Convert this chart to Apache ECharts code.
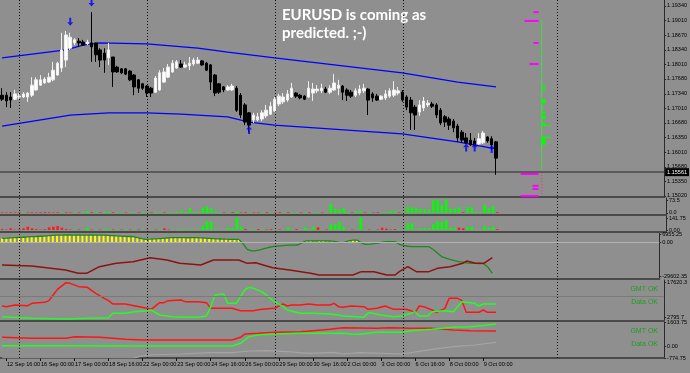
<!DOCTYPE html>
<html><head><meta charset="utf-8">
<script src="https://cdn.jsdelivr.net/npm/echarts@6/dist/echarts.min.js"></script>
<style>html,body{margin:0;padding:0;background:#8f8f8f;}#c{width:690px;height:373px;}</style>
</head><body><div id="c"></div>
<script>
const NCAT = 156;
const timeLabels = ['12 Sep 16:00','16 Sep 00:00','17 Sep 00:00','18 Sep 16:00','22 Sep 00:00','23 Sep 00:00','24 Sep 16:00','26 Sep 00:00','29 Sep 00:00','30 Sep 16:00','2 Oct 00:00','3 Oct 00:00','6 Oct 16:00','8 Oct 00:00','9 Oct 00:00'];
const timeLabelIdx = [1,9,17,25,33,41,49,57,65,73,81,89,97,105,113];
const gridLinesIdx = [4,34,64,94,130];
const priceTicks = [1.15020,1.15350,1.15680,1.16010,1.16350,1.16680,1.17010,1.17340,1.17680,1.18010,1.18340,1.18670,1.19010,1.19340];
const bidPrice = 1.15561;
// [open, close, low, high]
const candles = [
[1.1731,1.1722,1.1718,1.1747],[1.1731,1.1718,1.1704,1.1738],[1.1727,1.1720,1.1702,1.1738],[1.1722,1.1734,1.1720,1.1743],
[1.1727,1.1729,1.1722,1.1736],[1.1727,1.1734,1.1725,1.1738],[1.1727,1.1736,1.1716,1.1738],[1.1731,1.1754,1.1727,1.1772],
[1.1743,1.1766,1.1741,1.1772],[1.1754,1.1766,1.1752,1.1777],[1.1759,1.1768,1.1757,1.1772],[1.1761,1.1772,1.1759,1.1782],
[1.1766,1.1788,1.1763,1.1807],[1.1777,1.1804,1.1775,1.1807],[1.1793,1.1834,1.1784,1.1873],[1.1811,1.1868,1.1795,1.1877],
[1.1838,1.1863,1.1834,1.1873],[1.1850,1.1857,1.1845,1.1861],[1.1854,1.1850,1.1841,1.1861],[1.1852,1.1845,1.1843,1.1857],
[1.1848,1.1852,1.1845,1.1857],[1.1850,1.1841,1.1807,1.1920],[1.1850,1.1823,1.1807,1.1850],[1.1834,1.1811,1.1795,1.1838],
[1.1827,1.1811,1.1782,1.1838],[1.1816,1.1834,1.1800,1.1850],[1.1818,1.1784,1.1750,1.1818],[1.1795,1.1784,1.1782,1.1798],
[1.1791,1.1782,1.1779,1.1793],[1.1791,1.1779,1.1777,1.1793],[1.1786,1.1766,1.1763,1.1788],[1.1777,1.1750,1.1731,1.1779],
[1.1766,1.1747,1.1736,1.1768],[1.1757,1.1747,1.1743,1.1759],[1.1752,1.1736,1.1727,1.1754],[1.1747,1.1736,1.1727,1.1750],
[1.1738,1.1770,1.1736,1.1775],[1.1743,1.1782,1.1741,1.1788],[1.1761,1.1784,1.1759,1.1793],[1.1772,1.1795,1.1770,1.1802],
[1.1784,1.1804,1.1782,1.1811],[1.1793,1.1807,1.1791,1.1811],[1.1802,1.1795,1.1793,1.1811],[1.1795,1.1800,1.1793,1.1807],
[1.1798,1.1804,1.1788,1.1818],[1.1802,1.1811,1.1798,1.1816],[1.1804,1.1811,1.1802,1.1818],[1.1809,1.1800,1.1798,1.1811],
[1.1804,1.1788,1.1786,1.1807],[1.1800,1.1761,1.1743,1.1802],[1.1777,1.1736,1.1729,1.1779],[1.1757,1.1738,1.1734,1.1759],
[1.1750,1.1743,1.1738,1.1752],[1.1743,1.1750,1.1741,1.1754],[1.1743,1.1752,1.1741,1.1757],[1.1747,1.1697,1.1693,1.1752],
[1.1731,1.1686,1.1679,1.1736],[1.1709,1.1670,1.1663,1.1713],[1.1691,1.1663,1.1647,1.1693],[1.1675,1.1686,1.1668,1.1691],
[1.1675,1.1682,1.1672,1.1691],[1.1677,1.1691,1.1672,1.1697],[1.1684,1.1697,1.1679,1.1709],[1.1688,1.1706,1.1686,1.1716],
[1.1695,1.1722,1.1693,1.1727],[1.1711,1.1729,1.1706,1.1734],[1.1716,1.1727,1.1711,1.1736],[1.1720,1.1734,1.1716,1.1743],
[1.1727,1.1747,1.1725,1.1759],[1.1736,1.1729,1.1725,1.1738],[1.1731,1.1725,1.1722,1.1734],[1.1729,1.1722,1.1720,1.1731],
[1.1727,1.1747,1.1725,1.1763],[1.1736,1.1745,1.1718,1.1759],[1.1741,1.1745,1.1736,1.1754],[1.1741,1.1747,1.1736,1.1757],
[1.1745,1.1738,1.1736,1.1750],[1.1738,1.1747,1.1734,1.1754],[1.1743,1.1759,1.1741,1.1779],[1.1747,1.1754,1.1731,1.1766],
[1.1752,1.1738,1.1720,1.1754],[1.1743,1.1731,1.1718,1.1747],[1.1738,1.1729,1.1725,1.1743],[1.1731,1.1741,1.1727,1.1747],
[1.1736,1.1745,1.1731,1.1754],[1.1741,1.1747,1.1736,1.1757],[1.1745,1.1720,1.1686,1.1747],[1.1734,1.1725,1.1716,1.1738],
[1.1729,1.1720,1.1718,1.1734],[1.1722,1.1729,1.1720,1.1731],[1.1725,1.1734,1.1720,1.1743],[1.1729,1.1741,1.1725,1.1747],
[1.1731,1.1743,1.1727,1.1763],[1.1736,1.1741,1.1731,1.1750],[1.1738,1.1720,1.1716,1.1743],[1.1727,1.1704,1.1697,1.1731],
[1.1720,1.1691,1.1652,1.1727],[1.1704,1.1686,1.1652,1.1709],[1.1693,1.1709,1.1684,1.1720],[1.1702,1.1718,1.1695,1.1727],
[1.1709,1.1713,1.1704,1.1720],[1.1711,1.1706,1.1702,1.1716],[1.1709,1.1686,1.1679,1.1713],[1.1697,1.1668,1.1663,1.1702],
[1.1682,1.1670,1.1659,1.1686],[1.1677,1.1663,1.1652,1.1682],[1.1672,1.1657,1.1647,1.1677],[1.1661,1.1634,1.1625,1.1666],
[1.1647,1.1629,1.1623,1.1652],[1.1634,1.1623,1.1620,1.1645],[1.1629,1.1618,1.1616,1.1645],[1.1627,1.1618,1.1616,1.1634],
[1.1620,1.1632,1.1618,1.1645],[1.1623,1.1645,1.1620,1.1650],[1.1636,1.1627,1.1623,1.1638],[1.1632,1.1618,1.1607,1.1638],
[1.1625,1.1588,1.1550,1.1627]
];
const maUpper = [[0,1.1816],[15,1.1834],[19,1.1845],[23,1.1850],[34,1.1848],[46,1.1838],[53,1.1829],[64,1.1816],[94,1.1782],[107,1.1761],[116,1.1750]];
const maLower = [[0,1.1661],[16,1.1686],[25,1.1691],[34,1.1691],[42,1.1688],[53,1.1682],[58,1.1670],[64,1.1663],[94,1.1643],[107,1.1625],[116,1.1609]];
const fractalDown = [[16,1.1898],[21,1.1942]];
const fractalUp = [[58,1.1652],[109,1.1612],[111,1.1612],[115,1.1609]];
const levelPrices = [1.1920,1.1900,1.1850,1.1802,1.1552,1.1525,1.1518,1.1502];
const levelStrength = [5,14,5,9,18,6,6,18];
const volBlocks = [[1.1754,1.1750,4],[1.1745,1.1741,4],[1.1722,1.1713,4],[1.1708,1.1706,3],[1.1702,1.1700,3],[1.1693,1.1688,4],[1.1684,1.1677,4],[1.1668,1.1661,4],[1.1663,1.1661,9],[1.1637,1.1634,9],[1.1634,1.1618,4]];
const volSpine = [1.1902,1.1561];
const volTail = [1.1556,1.1504];
const p1Hist = [-4,-3,-4,-3,-4,3,-3,-4,-3,-4,-5,-4,-3,-4,3,-4,-3,3,-3,4,11,-4,5,-3,6,7,-4,4,3,-3,4,3,-3,4,3,-3,4,3,-3,4,3,5,15,4,29,5,4,30,40,28,8,4,-3,3,-4,10,-3,-4,4,-3,-3,4,-4,3,-3,-4,3,-4,4,3,-3,4,-4,3,4,-3,3,54,25,21,29,4,-3,10,11,-3,4,-3,-4,3,5,12,12,-3,5,34,34,28,21,21,18,74,80,48,80,25,25,34,-4,34,34,4,5,48,28,40,-5];
const p2Hist = [-10,-5,-20,-5,-8,-20,-39,-20,-10,-5,-8,-31,-39,-47,-27,-10,-5,5,-5,5,27,-5,5,-5,10,10,-5,5,-5,5,-5,5,-5,5,-5,5,-5,5,-20,-5,5,5,10,5,8,5,5,51,106,98,12,5,5,27,20,150,39,-10,5,10,-10,5,-5,-8,5,-5,5,31,5,-10,5,31,5,39,-31,5,-5,67,67,98,39,5,-5,5,150,5,-5,5,-5,-27,-15,-5,-10,5,5,79,79,5,20,20,20,67,106,98,118,27,27,-27,-20,39,39,10,5,39,27,39,-10];
const p3Green = [3200,3350,3600,3750,4000,4150,4400,4650,4800,5000,5200,5500,5700,5900,6000,6100,6100,6050,6100,6000,6050,6100,6000,6050,5900,5700,5500,5300,5100,4900,4800,4650,3800,3000,2350,2500,2700,2900,3200,3500,3750,3800,3750,3800,3700,3750,3800,3600,3400,3200,3000,2800,2600,2450,2350,2300,2300,-1500,-6500,-7800,-7600,-6900,-5800,-4800,-4100,-3600,-3300,-3000,-2800,-2700,-2600,-600,900,900,850,900,900,850,800,400,-500,-300,900,1700,1600,-800,-2000,-1800,-1500,-900,-200,300,300,300,-2000,-3000,-3700,-4000,-4000,-4000,-4100,-4100,-6500,-9500,-12700,-14000,-15200,-16300,-17100,-17600,-18100,-18500,-18600,-18700,-19100,-22000,-27300];
const p3Red = [[0,-20024],[7,-20895],[15,-24377],[18,-27279],[20,-27279],[23,-21475],[27,-18573],[31,-17122],[35,-13640],[39,-15671],[42,-18573],[45,-19444],[47,-20024],[50,-15671],[56,-15671],[58,-18573],[60,-17993],[64,-22346],[68,-24377],[73,-27279],[75,-28730],[83,-28730],[85,-25828],[88,-25828],[91,-28730],[93,-28730],[94,-25828],[96,-21475],[98,-25828],[101,-25828],[103,-22926],[106,-21475],[109,-18573],[110,-16542],[112,-18573],[114,-18573],[116,-13640]];
const p4Red = [[0,7454],[1,7172],[3,7877],[6,7595],[7,8584],[10,9007],[11,9713],[12,12113],[13,14514],[15,17338],[16,17056],[18,15644],[20,15361],[22,12820],[24,10701],[25,9713],[26,8301],[29,8301],[31,7595],[34,6465],[35,6042],[37,8866],[38,8866],[39,9713],[42,9996],[43,9289],[46,9289],[48,8866],[49,6465],[54,6465],[56,5477],[59,5477],[61,6042],[64,6465],[65,7454],[66,8301],[67,7454],[68,7877],[70,7877],[72,8301],[74,7877],[77,7877],[78,8584],[79,7172],[80,6889],[82,7454],[85,7172],[86,6042],[88,6465],[90,7454],[92,6042],[95,6042],[96,5477],[97,4630],[98,7454],[99,7172],[101,5759],[102,4630],[104,6465],[105,10701],[107,10701],[108,9713],[109,4771],[112,4771],[113,5759],[114,4771],[116,4771]];
const p4Green = [[0,2936],[2,2653],[7,2230],[15,1947],[20,2230],[25,2512],[26,4348],[29,4348],[31,5053],[34,5477],[35,5759],[37,3642],[40,2936],[43,2653],[46,2653],[48,3218],[49,7172],[50,12113],[52,12537],[53,8584],[55,8584],[57,14231],[58,15361],[59,14937],[61,13525],[63,10701],[64,9289],[66,7172],[67,5759],[70,4348],[73,4348],[77,4065],[79,3642],[80,3218],[85,2653],[86,4630],[87,4348],[89,3642],[92,2936],[94,3218],[96,4348],[97,5053],[98,3218],[100,3218],[101,5053],[104,5477],[106,5053],[108,9289],[110,8866],[111,8584],[112,7454],[113,8301],[116,8301]];
const p4Level = 11690;
const p5Red = [[0,593],[7,527],[15,527],[17,633],[23,593],[29,461],[33,414],[46,414],[54,414],[56,593],[57,811],[60,857],[64,923],[70,963],[73,1029],[77,1122],[80,1227],[88,1187],[91,1227],[96,1187],[101,1187],[106,1075],[110,1029],[116,1009]];
const p5Green = [[0,38],[15,38],[31,18],[54,18],[56,197],[58,633],[60,745],[64,811],[70,857],[80,857],[82,811],[84,791],[88,923],[94,923],[96,1029],[101,1122],[106,1254],[110,1293],[114,1405],[116,1472]];
const p5Gray = [[0,-770],[31,-770],[34,-577],[42,-511],[49,-424],[54,-424],[58,-313],[62,-293],[67,-359],[72,-465],[78,-399],[80,-511],[84,-424],[94,-511],[101,-200],[106,-29],[111,84],[116,262]];

const FONT = 'Liberation Sans';
const cats = Array.from({length: NCAT}, (_, i) => String(i));
const labelMap = {}; timeLabelIdx.forEach((k, i) => labelMap[k] = timeLabels[i]);
const labelSet = new Set(timeLabelIdx);

function xAx(gi, withLabels) {
  return {
    type: 'category', gridIndex: gi, data: cats, boundaryGap: true,
    axisLine: {show: true, onZero: false, lineStyle: {color: '#4a4a4a', width: 2}},
    axisTick: withLabels ? {show: true, alignWithLabel: true, interval: (i) => labelSet.has(i), length: 3, lineStyle: {color: '#111'}} : {show: false},
    axisLabel: withLabels ? {show: true, interval: (i) => labelSet.has(i), showMinLabel: true, showMaxLabel: true, hideOverlap: false, formatter: (v, i) => labelMap[i] || '', align: 'left', padding: [0, 0, 0, 0.5], fontSize: 5.6, color: '#000', margin: 3, fontFamily: FONT} : {show: false},
    splitLine: {show: false}
  };
}
function yAx(gi, min, max, ticks, fmt, showLine) {
  return {
    type: 'value', gridIndex: gi, position: 'right', min: min, max: max,
    axisLine: {show: showLine !== false, onZero: false, lineStyle: {color: '#2a2a2a', width: 1}},
    axisTick: {show: true, customValues: ticks, length: 2, lineStyle: {color: '#2a2a2a'}},
    axisLabel: {show: true, customValues: ticks, hideOverlap: false, showMinLabel: true, showMaxLabel: true,
      formatter: fmt, fontSize: 5.5, color: '#000', margin: 3, fontFamily: FONT},
    splitLine: {show: false}
  };
}
const fmtPrice = v => v.toFixed(5);
const histData = (arr) => arr.map(v => ({value: Math.abs(v), itemStyle: {color: v >= 0 ? '#00ff00' : '#ff1a1a'}}));
const lineS = (xi, data, color, w) => ({type: 'line', xAxisIndex: xi, yAxisIndex: xi, data: data, symbol: 'none', smooth: false, lineStyle: {color: color, width: w}, silent: true, z: 4});
const arrowDown = 'path://M2,0 L4,0 L4,5 L6,5 L3,9 L0,5 L2,5 Z';
const arrowUp = 'path://M3,0 L6,4 L4,4 L4,9 L2,9 L2,4 L0,4 Z';

const priceTicksA = priceTicks.filter((v, i) => i % 2 === 0);
const priceTicksB = priceTicks.filter((v, i) => i % 2 === 1);

const option = {
  animation: false,
  backgroundColor: '#8f8f8f',
  title: [
    {text: 'EURUSD is coming as\npredicted. ;-)', left: 282, top: 6, padding: 0, textStyle: {color: '#ffffff', fontSize: 15, fontWeight: 'bold', fontFamily: 'Lato', lineHeight: 18}},
    {text: 'GMT OK', right: 32, top: 286, padding: 0, textStyle: {color: '#1f9f1f', fontSize: 7, fontWeight: 'normal', fontFamily: FONT}},
    {text: 'Data OK', right: 32, top: 299, padding: 0, textStyle: {color: '#1f9f1f', fontSize: 7, fontWeight: 'normal', fontFamily: FONT}},
    {text: 'GMT OK', right: 32, top: 328, padding: 0, textStyle: {color: '#1f9f1f', fontSize: 7, fontWeight: 'normal', fontFamily: FONT}},
    {text: 'Data OK', right: 32, top: 341, padding: 0, textStyle: {color: '#1f9f1f', fontSize: 7, fontWeight: 'normal', fontFamily: FONT}}
  ],
  grid: [
    {left: 0, width: 666, top: 0, height: 197},
    {left: 0, width: 666, top: 198, height: 17},
    {left: 0, width: 666, top: 216, height: 16},
    {left: 0, width: 666, top: 233, height: 46},
    {left: 0, width: 666, top: 280, height: 41},
    {left: 0, width: 666, top: 322, height: 36},
    {left: 0, width: 666, top: 0, height: 358}
  ],
  xAxis: [xAx(0, false), xAx(1, false), xAx(2, false), xAx(3, false), xAx(4, false), xAx(5, true),
    {type: 'value', gridIndex: 6, min: -0.5, max: NCAT - 0.5, show: false}],
  yAxis: [
    yAx(0, 1.14996, 1.19476, priceTicksA, fmtPrice),
    yAx(1, -12, 88, [0, 73.5], v => v === 0 ? '0.0' : '73.5'),
    yAx(2, -23.6, 165.4, [0, 141.75], v => v.toFixed(2)),
    yAx(3, -32213, 7835, [-29602.35, 0, 6955.25], v => v.toFixed(2)),
    yAx(4, 1100, 18467.5, [2795.7, 17620.3], v => v.toFixed(1)),
    yAx(5, -774.75, 1603.75, [-774.75, 0, 1603.75], v => v.toFixed(2)),
    {type: 'value', gridIndex: 6, min: 0, max: 1, show: false},
    yAx(0, 1.14996, 1.19476, priceTicksB, fmtPrice, false)
  ],
  series: [
    {type: 'line', xAxisIndex: 6, yAxisIndex: 6, data: [[-20, -5]], symbol: 'none', silent: true, z: 1,
      markLine: {symbol: 'none', silent: true, label: {show: false}, lineStyle: {color: '#111', type: [1, 2], width: 1}, data: gridLinesIdx.map(i => ({xAxis: i}))}},
    {type: 'candlestick', xAxisIndex: 0, yAxisIndex: 0, data: candles, barWidth: 3, z: 5,
      itemStyle: {color: '#ffffff', color0: '#000000', borderColor: '#eeeeee', borderColor0: '#000000', borderWidth: 1}},
    {...lineS(0, maUpper, '#0000ff', 1.3),
      markLine: {symbol: 'none', silent: true, precision: 5, data: [{yAxis: bidPrice}], lineStyle: {color: '#4a4a4a', width: 1.5, type: 'solid'},
        label: {show: true, position: 'end', formatter: bidPrice.toFixed(5), color: '#fff', backgroundColor: '#000', fontSize: 5.5, padding: [1, 2], distance: 1, fontFamily: FONT}}},
    lineS(0, maLower, '#0000ff', 1.3),
    {type: 'scatter', xAxisIndex: 0, yAxisIndex: 0, data: fractalDown, symbol: arrowDown, symbolSize: [6, 8], itemStyle: {color: '#0000ff'}, z: 6, silent: true},
    {type: 'scatter', xAxisIndex: 0, yAxisIndex: 0, data: fractalUp, symbol: arrowUp, symbolSize: [6, 8], itemStyle: {color: '#0000ff'}, z: 6, silent: true},
    {type: 'custom', xAxisIndex: 0, yAxisIndex: 0, silent: true, z: 4,
      data: levelPrices.map((p, i) => [126, p, levelStrength[i]]),
      renderItem: (params, api) => { const pt = api.coord([api.value(0), api.value(1)]); const w = api.value(2);
        return {type: 'rect', shape: {x: pt[0] - w, y: pt[1] - 1, width: w, height: 2}, style: {fill: '#ff00ff'}}; }},
    {type: 'custom', xAxisIndex: 0, yAxisIndex: 0, silent: true, z: 4,
      data: [[127, volSpine[0], volSpine[1]]],
      renderItem: (params, api) => { const a = api.coord([api.value(0), api.value(1)]); const b = api.coord([api.value(0), api.value(2)]);
        return {type: 'line', shape: {x1: a[0] - 1, y1: a[1], x2: b[0] - 1, y2: b[1]}, style: {stroke: '#33ee33', lineWidth: 1, opacity: 0.8}}; }},
    {type: 'custom', xAxisIndex: 0, yAxisIndex: 0, silent: true, z: 4,
      data: [[127, volTail[0], volTail[1]]],
      renderItem: (params, api) => { const a = api.coord([api.value(0), api.value(1)]); const b = api.coord([api.value(0), api.value(2)]);
        return {type: 'line', shape: {x1: a[0] - 1, y1: a[1], x2: b[0] - 1, y2: b[1]}, style: {stroke: '#ff3030', lineWidth: 1, lineDash: [1, 2]}}; }},
    {type: 'custom', xAxisIndex: 0, yAxisIndex: 0, silent: true, z: 4,
      data: volBlocks.map(b => [127, b[0], b[1], b[2]]),
      renderItem: (params, api) => { const a = api.coord([api.value(0), api.value(1)]); const b = api.coord([api.value(0), api.value(2)]);
        return {type: 'rect', shape: {x: a[0] - 1.3, y: a[1], width: api.value(3), height: Math.max(1, b[1] - a[1])}, style: {fill: '#00ff00'}}; }},
    {type: 'bar', xAxisIndex: 1, yAxisIndex: 1, data: histData(p1Hist), barWidth: 2.5, silent: true, z: 3},
    {type: 'bar', xAxisIndex: 2, yAxisIndex: 2, data: histData(p2Hist), barWidth: 2.5, silent: true, z: 3},
    {type: 'bar', xAxisIndex: 3, yAxisIndex: 3, data: p3Green.map(v => v > 0 ? v : '-'), barWidth: 2, itemStyle: {color: '#ffff00'}, silent: true, z: 3,
      markLine: {symbol: 'none', silent: true, label: {show: false}, data: [{yAxis: 0}], lineStyle: {color: '#b4b4b4', width: 1, type: 'solid'}}},
    lineS(3, p3Green.map((v, i) => [i, v]), '#1d8a1d', 1.3),
    lineS(3, p3Red, '#8e1212', 1.5),
    {...lineS(4, p4Red, '#ff1414', 1.5), markLine: {symbol: 'none', silent: true, precision: 1, label: {show: false}, data: [{yAxis: p4Level}], lineStyle: {color: '#7a7a7a', width: 1, type: 'solid'}}},
    lineS(4, p4Green, '#22ff22', 1.5),
    lineS(5, p5Gray, '#a4a4a4', 1.2),
    lineS(5, p5Red, '#ff1414', 1.5),
    lineS(5, p5Green, '#22ff22', 1.5)
  ]
};
const chart = echarts.init(document.getElementById('c'), null, {renderer: 'canvas'});
chart.setOption(option);
</script>
</body></html>
